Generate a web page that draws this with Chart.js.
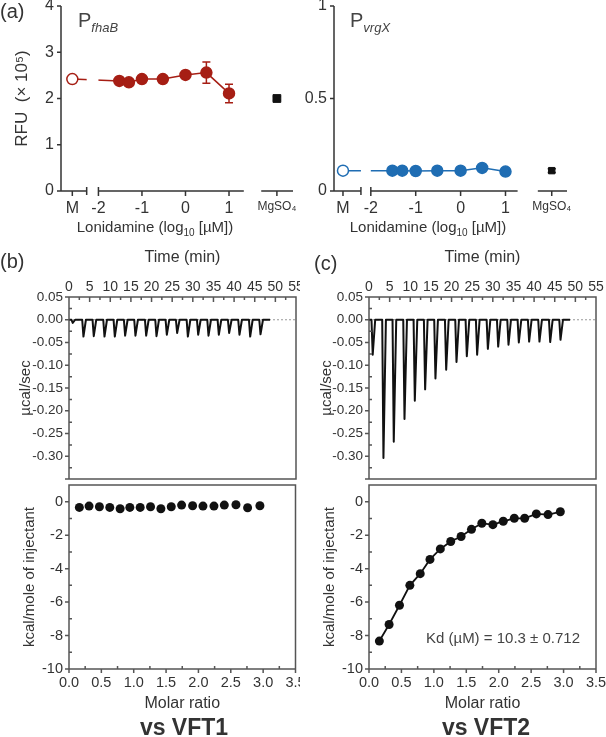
<!DOCTYPE html>
<html><head><meta charset="utf-8">
<script src="https://cdn.jsdelivr.net/npm/chart.js@4.4.1/dist/chart.umd.min.js"></script>
<style>
body{margin:0;background:#fff;width:606px;height:737px;position:relative;overflow:hidden;font-family:'Liberation Sans',Arial,sans-serif;color:#333}
canvas{position:absolute}
.t{position:absolute;white-space:nowrap;line-height:1}
.c{transform:translate(-50%,-50%)}
</style></head><body>
<canvas id="aL" width="300" height="250" style="left:0;top:-10px"></canvas>
<canvas id="aR" width="306" height="250" style="left:300px;top:-10px"></canvas>
<canvas id="bT" width="300" height="236" style="left:0;top:245px"></canvas>
<canvas id="bB" width="300" height="240" style="left:0;top:480px"></canvas>
<canvas id="cT" width="306" height="236" style="left:300px;top:245px"></canvas>
<canvas id="cB" width="306" height="240" style="left:300px;top:480px"></canvas>

<div class="t" style="left:0;top:1px;font-size:20px">(a)</div>
<div class="t" style="left:78px;top:10px;font-size:20px;color:#444">P<sub style="font-size:13px;font-style:italic">fhaB</sub></div>
<div class="t" style="left:350px;top:10px;font-size:20px;color:#444">P<sub style="font-size:13px;font-style:italic">vrgX</sub></div>
<div class="t c" style="left:155px;top:228px;font-size:15px">Lonidamine (log<sub style="font-size:10px">10</sub> [µM])</div>
<div class="t c" style="left:428px;top:228px;font-size:15px">Lonidamine (log<sub style="font-size:10px">10</sub> [µM])</div>
<div class="t" style="left:0;top:251px;font-size:20px">(b)</div>
<div class="t" style="left:314px;top:253px;font-size:20px">(c)</div>
<div class="t c" style="left:503px;top:637px;font-size:15px;color:#444">Kd (µM) = 10.3 ± 0.712</div>
<div class="t c" style="left:184px;top:727px;font-size:23px;font-weight:bold">vs VFT1</div>
<div class="t c" style="left:486px;top:727px;font-size:23px;font-weight:bold">vs VFT2</div>

<script>
// ---------- data ----------
const lonidamineLog = [-1.52, -1.3, -1, -0.52, 0, 0.48, 1];
const aXLabels = ['M', '-2', '-1', '0', '1', 'MgSO₄'];
const fhaMedium = 2.42, fhaMediumErr = 0.06;
const fhaValues = [2.38, 2.35, 2.42, 2.42, 2.51, 2.56, 2.11];
const fhaErrors = [0.03, 0.05, 0.03, 0.03, 0.03, 0.23, 0.2];
const fhaMg = 2.0, fhaMgErr = 0.04;
const vrgMedium = 0.11;
const vrgValues = [0.11, 0.11, 0.108, 0.11, 0.11, 0.125, 0.105];
const vrgMg = 0.11, vrgMgErr = 0.01;
const rfuTicksL = [0, 1, 2, 3, 4];
const rfuTicksR = [0, 0.5, 1];

const injTimes = [0.9, 3.5, 6.0, 8.6, 11.1, 13.6, 16.1, 18.7, 21.2, 23.7, 26.2, 28.8, 31.3, 33.8, 36.3, 38.8, 41.3, 43.9, 46.4];
const traceEnd = 48.7;
const peaksVFT1 = [-0.007, -0.037, -0.036, -0.037, -0.037, -0.035, -0.035, -0.035, -0.036, -0.033, -0.029, -0.037, -0.033, -0.035, -0.033, -0.029, -0.033, -0.037, -0.032];
const peaksVFT2 = [-0.077, -0.304, -0.268, -0.218, -0.178, -0.153, -0.129, -0.110, -0.093, -0.080, -0.077, -0.064, -0.059, -0.055, -0.050, -0.048, -0.048, -0.049, -0.044];
const molarRatio = [0.16, 0.31, 0.47, 0.63, 0.79, 0.94, 1.10, 1.26, 1.42, 1.58, 1.74, 1.91, 2.07, 2.24, 2.40, 2.58, 2.76, 2.95];
const heatVFT1 = [-0.34, -0.26, -0.3, -0.34, -0.42, -0.34, -0.34, -0.3, -0.42, -0.3, -0.2, -0.24, -0.26, -0.26, -0.2, -0.18, -0.36, -0.24];
const heatVFT2 = [-8.33, -7.34, -6.19, -5.0, -4.3, -3.45, -2.82, -2.38, -2.08, -1.65, -1.29, -1.37, -1.17, -0.99, -0.99, -0.73, -0.77, -0.6];
const timeTicks = [0, 5, 10, 15, 20, 25, 30, 35, 40, 45, 50, 55];
const powerTicks = [0.05, 0, -0.05, -0.1, -0.15, -0.2, -0.25, -0.3, -0.35];
const heatTicks = [0, -2, -4, -6, -8, -10];
const molarTicks = [0, 0.5, 1, 1.5, 2, 2.5, 3, 3.5];

// ---------- styling ----------
const RED = '#a61e14', BLUE = '#1f6db3', INK = '#111', AX = '#333', FRAME = '#555';
Chart.defaults.font.family = "'Liberation Sans', Arial, sans-serif";
Chart.defaults.color = '#333';

const mids = a => a.slice(1).map((v, i) => (v + a[i]) / 2);
const DECOR = {};
const decor = {
  id: 'decor',
  beforeDatasetsDraw(chart) {
    const {ctx, scales: {x, y}} = chart;
    chart.data.datasets.forEach(ds => {
      if (!ds.errors) return;
      ctx.save(); ctx.strokeStyle = ds.borderColor; ctx.lineWidth = 1.5;
      ds.data.forEach((p, j) => {
        const e = ds.errors[j]; if (!e) return;
        const px = x.getPixelForValue(p.x), t = y.getPixelForValue(p.y + e), b = y.getPixelForValue(p.y - e);
        ctx.beginPath();
        ctx.moveTo(px, t); ctx.lineTo(px, b);
        ctx.moveTo(px - 4, t); ctx.lineTo(px + 4, t);
        ctx.moveTo(px - 4, b); ctx.lineTo(px + 4, b);
        ctx.stroke();
      });
      ctx.restore();
    });
  },
  afterDatasetsDraw(chart) {
    const o = DECOR[chart.canvas.id]; if (!o) return;
    const {ctx, chartArea: ca, scales: {x, y}} = chart;
    ctx.save();
    (o.gaps || []).forEach(([a, b]) => {
      const xa = x.getPixelForValue(a), xb = x.getPixelForValue(b);
      ctx.fillStyle = '#fff'; ctx.fillRect(xa, ca.top - 2, xb - xa, ca.bottom - ca.top + 1);
    });
    ctx.strokeStyle = o.color; ctx.lineWidth = o.lw;
    ctx.beginPath();
    if (o.frame) {
      ctx.rect(ca.left, ca.top, ca.right - ca.left, ca.bottom - ca.top);
    } else {
      ctx.moveTo(ca.left, ca.top); ctx.lineTo(ca.left, ca.bottom);
      (o.segments || []).forEach(([a, b]) => { ctx.moveTo(x.getPixelForValue(a), ca.bottom); ctx.lineTo(x.getPixelForValue(b), ca.bottom); });
      (o.caps || []).forEach(v => { const px = x.getPixelForValue(v); ctx.moveTo(px, ca.bottom - 4); ctx.lineTo(px, ca.bottom + 4); });
    }
    (o.xt || []).forEach(s => {
      const y0 = s.at === 'top' ? ca.top : ca.bottom;
      s.vals.forEach(v => { const px = x.getPixelForValue(v); ctx.moveTo(px, y0); ctx.lineTo(px, y0 + s.dir * s.len); });
    });
    (o.yt || []).forEach(s => {
      s.vals.forEach(v => { const py = y.getPixelForValue(v); ctx.moveTo(ca.left, py); ctx.lineTo(ca.left + s.dir * s.len, py); });
    });
    ctx.stroke();
    ctx.restore();
  }
};

const base = (pad) => ({
  responsive: false, animation: false, events: [],
  layout: {padding: pad},
  plugins: {legend: {display: false}, tooltip: {enabled: false}}
});
const fixTicks = arr => s => { s.ticks = arr.map(v => ({value: v})); };
const fitW = w => s => { s.width = w; s.paddingTop = 0; s.paddingBottom = 0; s.paddingLeft = 0; s.paddingRight = 0; };
const fitH = h => s => { s.height = h; s.paddingTop = 0; s.paddingBottom = 0; s.paddingLeft = 0; s.paddingRight = 0; };
const noGrid = {display: false, drawTicks: false};

// ---------- (a) left : PfhaB ----------
const M_L = -2.6, MG_L = 2.1;
DECOR.aL = {color: AX, lw: 1.5, segments: [[-2.86, -2.27], [-2, 1.34], [1.74, 2.47]], caps: [-2.27, -2], gaps: [[-2.27, -2]],
  xt: [{at: 'bottom', vals: [M_L, -2, -1, 0, 1, MG_L], dir: 1, len: 5}], yt: [{vals: rfuTicksL, dir: -1, len: 4}]};
new Chart(document.getElementById('aL'), {
  type: 'scatter',
  data: {datasets: [
    {data: [{x: M_L, y: fhaMedium}, ...lonidamineLog.map((v, i) => ({x: v, y: fhaValues[i]}))],
     errors: [fhaMediumErr, ...fhaErrors], showLine: true, borderColor: RED, borderWidth: 1.5,
     pointRadius: 5.5, pointBorderWidth: 1.5, pointBorderColor: RED,
     pointBackgroundColor: ['#fff', ...fhaValues.map(() => RED)]},
    {data: [{x: MG_L, y: fhaMg}], errors: [fhaMgErr], borderColor: INK, backgroundColor: INK, pointStyle: 'rect', pointRadius: 5.5}
  ]},
  options: {...base({top: 16, right: 3, left: 0, bottom: 0}),
    scales: {
      x: {type: 'linear', min: -2.86, max: 2.47, afterBuildTicks: fixTicks([M_L, -2, -1, 0, 1, MG_L]),
        grid: noGrid, border: {display: false},
        ticks: {callback: (v, i) => aXLabels[i], padding: 8, maxRotation: 0, autoSkip: false,
          font: c => ({size: c.index === 5 ? 12 : 16})},
        afterFit: fitH(49)},
      y: {min: 0, max: 4, afterBuildTicks: fixTicks(rfuTicksL), grid: noGrid, border: {display: false},
        ticks: {padding: 7, font: {size: 16}},
        title: {display: true, text: 'RFU  (× 10⁵)', font: {size: 17}, padding: {top: 12, bottom: 0}},
        afterFit: fitW(61)}
    }},
  plugins: [decor]
});

// ---------- (a) right : PvrgX ----------
const M_R = -2.62, MG_R = 2.03;
DECOR.aR = {color: AX, lw: 1.5, segments: [[-2.82, -2.22], [-2, 1.27], [1.72, 2.37]], caps: [-2.22, -2], gaps: [[-2.22, -2]],
  xt: [{at: 'bottom', vals: [M_R, -2, -1, 0, 1, MG_R], dir: 1, len: 5}], yt: [{vals: rfuTicksR, dir: -1, len: 4}]};
new Chart(document.getElementById('aR'), {
  type: 'scatter',
  data: {datasets: [
    {data: [{x: M_R, y: vrgMedium}, ...lonidamineLog.map((v, i) => ({x: v, y: vrgValues[i]}))],
     showLine: true, borderColor: BLUE, borderWidth: 1.5,
     pointRadius: 5.5, pointBorderWidth: 1.5, pointBorderColor: BLUE,
     pointBackgroundColor: ['#fff', ...vrgValues.map(() => BLUE)]},
    {data: [{x: MG_R, y: vrgMg}], errors: [vrgMgErr], borderColor: INK, backgroundColor: INK, pointStyle: 'rect', pointRadius: 4.5}
  ]},
  options: {...base({top: 16, right: 39, left: 0, bottom: 0}),
    scales: {
      x: {type: 'linear', min: -2.82, max: 2.37, afterBuildTicks: fixTicks([M_R, -2, -1, 0, 1, MG_R]),
        grid: noGrid, border: {display: false},
        ticks: {callback: (v, i) => aXLabels[i], padding: 8, maxRotation: 0, autoSkip: false,
          font: c => ({size: c.index === 5 ? 12 : 16})},
        afterFit: fitH(49)},
      y: {min: 0, max: 1, afterBuildTicks: fixTicks(rfuTicksR), grid: noGrid, border: {display: false},
        ticks: {padding: 7, font: {size: 16}, callback: v => String(v)},
        afterFit: fitW(34)}
    }},
  plugins: [decor]
});

// ---------- ITC raw thermograms ----------
function trace(peaks) {
  const pts = [{x: 0, y: 0}];
  injTimes.forEach((t, i) => { pts.push({x: t - 0.3, y: 0}, {x: t, y: peaks[i]}, {x: t + 0.6, y: 0}); });
  pts.push({x: traceEnd, y: 0});
  return pts;
}
function itcTop(id, peaks, padRight, titlePad) {
  DECOR[id] = {color: FRAME, lw: 1.5, frame: true,
    xt: [{at: 'top', vals: timeTicks, dir: 1, len: 5}, {at: 'top', vals: mids(timeTicks), dir: 1, len: 3}],
    yt: [{vals: powerTicks, dir: -1, len: 4}, {vals: mids(powerTicks), dir: 1, len: 3}]};
  new Chart(document.getElementById(id), {
    type: 'scatter',
    data: {datasets: [
      {data: trace(peaks), showLine: true, borderColor: INK, borderWidth: 2, pointRadius: 0, borderJoinStyle: 'round'},
      {data: [{x: 0, y: 0}, {x: 55, y: 0}], showLine: true, borderColor: '#999', borderWidth: 1, borderDash: [2, 2], pointRadius: 0}
    ]},
    options: {...base({top: 0, right: padRight, left: 0, bottom: 2}),
      scales: {
        x: {type: 'linear', position: 'top', min: 0, max: 55, afterBuildTicks: fixTicks(timeTicks),
          grid: noGrid, border: {display: false},
          ticks: {padding: 1, maxRotation: 0, autoSkip: false, font: {size: 14}},
          title: {display: true, text: 'Time (min)', font: {size: 16}, padding: {top: 3, bottom: 0}},
          afterFit: fitH(52)},
        y: {min: -0.35, max: 0.05, afterBuildTicks: fixTicks(powerTicks), grid: noGrid, border: {display: false},
          ticks: {padding: 6, font: {size: 13.5}, callback: v => v < -0.34 ? '' : v.toFixed(2)},
          title: {display: true, text: 'µcal/sec', font: {size: 15}, padding: {top: titlePad, bottom: 0}},
          afterFit: fitW(69)}
      }},
    plugins: [decor]
  });
}
itcTop('bT', peaksVFT1, 4, 17);
itcTop('cT', peaksVFT2, 10, 18);

// ---------- ITC integrated heats ----------
function itcBottom(id, heats, line, padRight, titlePad) {
  DECOR[id] = {color: FRAME, lw: 1.5, frame: true,
    xt: [{at: 'bottom', vals: molarTicks, dir: 1, len: 4}, {at: 'bottom', vals: mids(molarTicks), dir: -1, len: 3}],
    yt: [{vals: heatTicks, dir: -1, len: 4}, {vals: mids(heatTicks), dir: 1, len: 3}]};
  new Chart(document.getElementById(id), {
    type: 'scatter',
    data: {datasets: [
      {data: molarRatio.map((v, i) => ({x: v, y: heats[i]})), showLine: line, borderColor: INK, borderWidth: 1.8,
       backgroundColor: INK, pointRadius: 4.5, pointBorderWidth: 0}
    ]},
    options: {...base({top: 5, right: padRight, left: 0, bottom: 0}),
      scales: {
        x: {type: 'linear', min: 0, max: 3.5, afterBuildTicks: fixTicks(molarTicks),
          grid: noGrid, border: {display: false},
          ticks: {padding: 5, maxRotation: 0, autoSkip: false, font: {size: 14.5}, callback: v => v.toFixed(1)},
          title: {display: true, text: 'Molar ratio', font: {size: 16}, padding: {top: 0, bottom: 7}},
          afterFit: fitH(51)},
        y: {min: -10, max: 1, afterBuildTicks: fixTicks(heatTicks), grid: noGrid, border: {display: false},
          ticks: {padding: 6, font: {size: 14.5}},
          title: {display: true, text: 'kcal/mole of injectant', font: {size: 15}, padding: {top: titlePad, bottom: 0}},
          afterFit: fitW(69)}
      }},
    plugins: [decor]
  });
}
itcBottom('bB', heatVFT1, false, 4, 21);
itcBottom('cB', heatVFT2, true, 10, 21);
</script>
</body></html>
